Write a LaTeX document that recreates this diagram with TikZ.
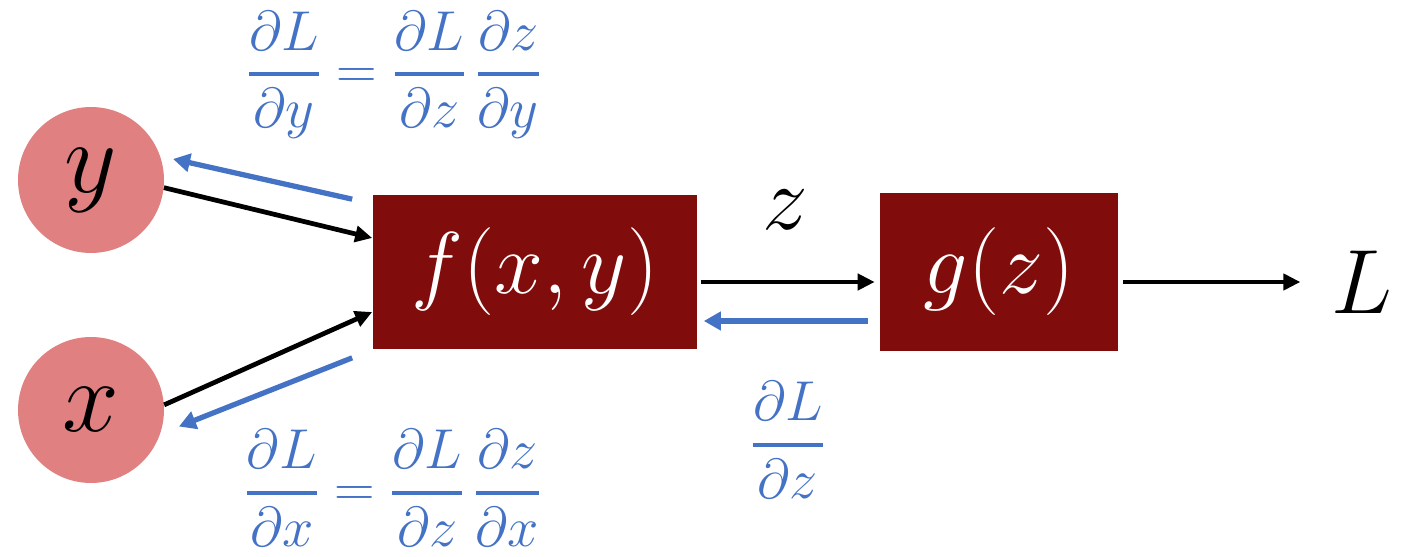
\RequirePackage{fix-cm}
\documentclass[tikz,border=0pt]{standalone}
\usepackage{amsmath}
\usetikzlibrary{positioning,arrows.meta}
\definecolor{NodePink}{RGB}{224,128,128}
\definecolor{BoxRed}{RGB}{128,12,12}
\definecolor{GradBlue}{RGB}{68,114,196}
\newcommand{\gradfrac}[2]{\genfrac{}{}{2.4pt}{0}{#1}{#2}}
\tikzset{
  flow/.style={-{Triangle[length=0.34cm,width=0.32cm]},line width=2.7pt,draw=black},
  gradflow/.style={-{Triangle[length=0.34cm,width=0.36cm]},line width=3pt,draw=GradBlue},
  varnode/.style={circle,fill=NodePink,minimum size=2.92cm,inner sep=0pt,
    font=\fontsize{58}{64}\selectfont},
  funcbox/.style={rectangle,fill=BoxRed,text=white,inner sep=0pt,
    font=\fontsize{50}{60}\selectfont},
  gradlabel/.style={text=GradBlue,font=\fontsize{32}{38}\selectfont},
  plainlabel/.style={font=\fontsize{52}{60}\selectfont}
}

\begin{document}
\begin{tikzpicture}[x=0.02cm,y=-0.02cm]
  \useasboundingbox (0,0) rectangle (1402,557);
  % variables and functions
  \node[varnode] (y) at (91,180) {$y$};
  \node[varnode] (x) at (91,410) {$x$};
  \node[funcbox,minimum width=6.5cm,minimum height=3.1cm] (f) at (535,272) {$f(x,y)$};
  \node[funcbox,minimum width=4.76cm,minimum height=3.16cm] (g) at (999,272) {$g(z)$};
  \node[plainlabel] (L) at (1362,282) {$L$};
  \node[plainlabel] (z) at (785,210) {$z$};

  % gradient labels
  \node[gradlabel] (dLdy) at (394,75)
    {$\gradfrac{\partial L}{\partial y}=\gradfrac{\partial L}{\partial z}\,\gradfrac{\partial z}{\partial y}$};
  \node[gradlabel] (dLdx) at (393,488)
    {$\gradfrac{\partial L}{\partial x}=\gradfrac{\partial L}{\partial z}\,\gradfrac{\partial z}{\partial x}$};
  \node[gradlabel] (dLdz) at (788,440) {$\gradfrac{\partial L}{\partial z}$};

  % forward pass
  \draw[flow] (y.-6) -- ([shift={(0,-34)}]f.west);
  \draw[flow] (x.4) -- ([shift={(0,40)}]f.west);
  \draw[flow] ([shift={(3,10)}]f.east) -- ([shift={(-5,10)}]g.west);
  \draw[flow,shorten >=0.5cm] ([shift={(5,10)}]g.east) -- (L);

  % backward pass
  \draw[gradflow] ([shift={(-12,49)}]g.west) -- ([shift={(6,49)}]f.east);
  \draw[gradflow,shorten >=0.26cm] ([shift={(-20,5)}]f.north west) -- (y.19);
  \draw[gradflow,shorten >=0.4cm] ([shift={(-20,8)}]f.south west) -- (x.-19);
\end{tikzpicture}
\end{document}
